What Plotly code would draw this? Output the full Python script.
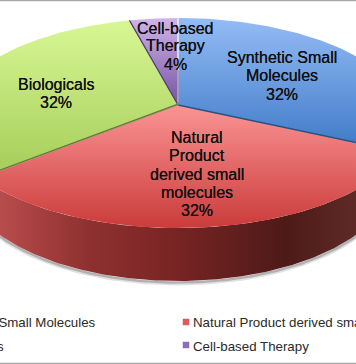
import numpy as np
import plotly.graph_objects as go

categories = ["Synthetic Small Molecules", "Natural Product derived small molecules", "Biologicals", "Cell-based Therapy"]
values = [32, 32, 32, 4]
top_colors = ["#94bcf5", "#fb9494", "#d8f794", "#d0b4ea"]
bottom_colors = ["#3d79c6", "#cb3b3b", "#a4cc58", "#7553a2"]

label_lines = [
    ["Synthetic Small", "Molecules", "32%"],
    ["Natural", "Product", "derived small", "molecules", "32%"],
    ["Biologicals", "32%"],
    ["Cell-based", "Therapy", "4%"],
]
label_x = [282, 197, 56, 175]
label_y = [[57, 75, 94], [137, 155, 174, 192, 210], [84, 102], [28, 45, 64]]

W, H = 356, 364
CX, CY, RX, RY, APEX = 178, 123, 231, 105, 18
k = APEX / RY
C = RX * np.sqrt(1 - k ** 2)


def project(theta):
    u, v = np.sin(theta), np.cos(theta)
    w = 1 + k * v
    return CX + C * u / w, CY - (RY * v + APEX) / w


fig = go.Figure()

# shadow and side wall
t = np.linspace(np.pi, 2 * np.pi, 200)
LOW_CY, LOW_RX, LOW_RY = 176, 215, 105
lx = CX - LOW_RX * np.cos(t)
ly = LOW_CY - LOW_RY * np.sin(t)
for off, wid, alpha in [(2.5, 4, 0.18), (1.5, 2.5, 0.35)]:
    fig.add_trace(go.Scatter(x=lx, y=ly + off, mode="lines", line=dict(color=f"rgba(90,90,90,{alpha})", width=wid), hoverinfo="skip"))

tr = np.linspace(np.pi / 2, 3 * np.pi / 2, 200)
rx_, ry_ = project(tr)
wall_x = np.concatenate([rx_, lx[::-1]])
wall_y = np.concatenate([ry_, ly[::-1]])
fig.add_trace(go.Scatter(
    x=wall_x, y=wall_y, mode="lines", fill="toself", line=dict(width=0, color="rgba(0,0,0,0)"),
    fillgradient=dict(type="horizontal", start=0, stop=356, colorscale=[
        [0, "#b84c4c"], [0.25, "#8f3030"], [0.5, "#772423"], [0.8, "#4e1a18"], [1, "#5e2a26"]]),
    hoverinfo="skip"))

# top faces
ax, ay = CX, CY - APEX
start = 0.0
total = sum(values)
rims = []
for val, c_top, c_bot in zip(values, top_colors, bottom_colors):
    a0 = start / total * 2 * np.pi
    a1 = (start + val) / total * 2 * np.pi
    th = np.linspace(a0, a1, 120)
    px, py = project(th)
    xs = np.concatenate([[ax], px, [ax]])
    ys = np.concatenate([[ay], py, [ay]])
    fig.add_trace(go.Scatter(
        x=xs, y=ys, mode="lines", fill="toself", line=dict(width=0, color="rgba(0,0,0,0)"),
        fillgradient=dict(type="vertical", start=ys.min(), stop=ys.max(), colorscale=[[0, c_top], [1, c_bot]]),
        hoverinfo="skip"))
    rims.append((px, py))
    start += val

# wedge edges
px, py = rims[0]
fig.add_trace(go.Scatter(x=[ax, px[-1]], y=[ay, py[-1]], mode="lines", line=dict(color="#27527f", width=1.3), hoverinfo="skip"))
px, py = rims[2]
fig.add_trace(go.Scatter(x=[ax, px[0]], y=[ay, py[0]], mode="lines", line=dict(color="#c07a78", width=0.8), hoverinfo="skip"))
fig.add_trace(go.Scatter(x=[ax, px[0]], y=[ay - 0.8, py[0] - 0.8], mode="lines", line=dict(color="#5f7a33", width=1.3), hoverinfo="skip"))
px, py = rims[3]
fig.add_trace(go.Scatter(x=[ax, px[0]], y=[ay, py[0]], mode="lines", line=dict(color="#4d3a6c", width=1.2), hoverinfo="skip"))
fig.add_trace(go.Scatter(x=[ax, px[-1]], y=[ay - 3, py[-1]], mode="lines", line=dict(color="#f2f2f6", width=1.4), hoverinfo="skip"))
fig.add_trace(go.Scatter(x=[ax, ax], y=[ay, ay - 35], mode="lines", line=dict(color="#8d8aa8", width=1.4), hoverinfo="skip"))

# legend markers
fig.add_trace(go.Scatter(x=[186, 186], y=[322, 345], mode="markers",
                         marker=dict(symbol="square", size=6.5, color=["#e05a5a", "#8f6cc0"], line=dict(width=0)),
                         hoverinfo="skip"))

annotations = []
for lines, x, ys_ in zip(label_lines, label_x, label_y):
    for line, y in zip(lines, ys_):
        annotations.append(dict(x=x, y=y, text=line, showarrow=False, xanchor="center", yanchor="middle",
                                font=dict(family="Liberation Sans", size=16, color="#111111",
                                          shadow="0 0 0.6px #111")))

legend_items = [
    (categories[0], 97.5, 322, "right"),
    (categories[2], 6, 346, "right"),
    (categories[1], 191, 322, "left"),
    (categories[3], 191, 346, "left"),
]
for text, x, y, anc in legend_items:
    annotations.append(dict(x=x, y=y, text=text, showarrow=False, xanchor=anc, yanchor="middle",
                            font=dict(family="Liberation Sans", size=13.3, color="#2a2a2a")))

fig.update_layout(
    width=W, height=H, margin=dict(l=0, r=0, t=0, b=0), showlegend=False,
    paper_bgcolor="white", plot_bgcolor="white",
    xaxis=dict(range=[0, W], visible=False, fixedrange=True),
    yaxis=dict(range=[H, 0], visible=False, fixedrange=True),
    annotations=annotations,
    shapes=[
        dict(type="line", x0=0, x1=W, y0=0.5, y1=0.5, line=dict(color="#a8a8a8", width=1.5)),
        dict(type="line", x0=0, x1=W, y0=363.5, y1=363.5, line=dict(color="#a8a8a8", width=1.5)),
    ],
)

fig.write_html("out.html", config=dict(displayModeBar=False),
               post_script="document.body.style.margin='0';document.body.style.overflow='hidden';")
